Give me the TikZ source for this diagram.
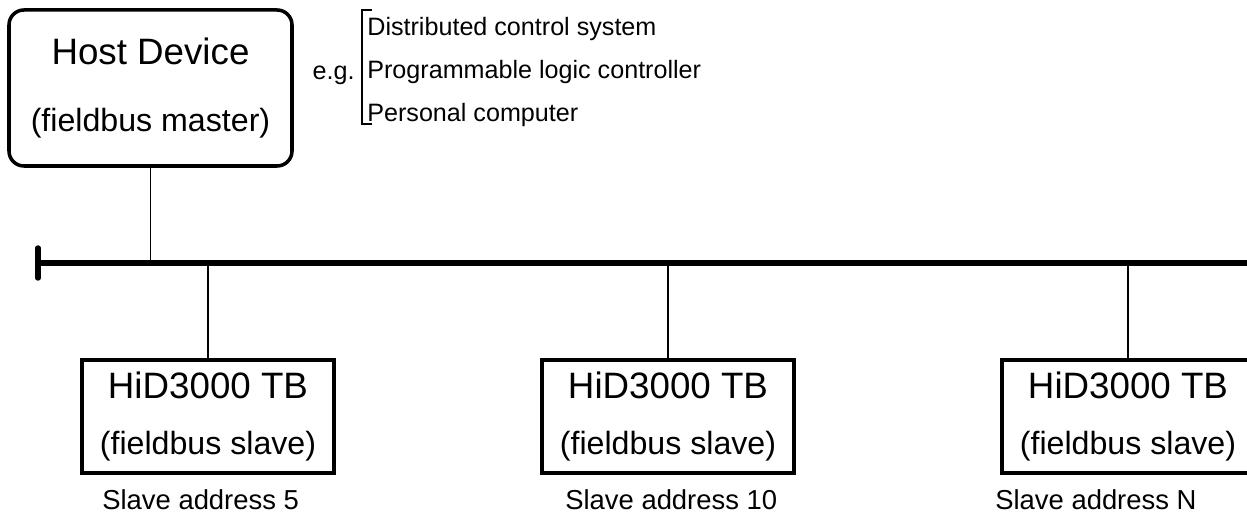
\documentclass[tikz,border=0pt]{standalone}
\usepackage{fontspec}
\setmainfont{Liberation Sans}
\usetikzlibrary{positioning, calc}

\begin{document}
\begin{tikzpicture}[
        device/.style={rectangle, draw, line width=2pt, align=center, inner sep=0pt},
        host/.style={device, rounded corners=8.5pt, minimum width=5.66cm, minimum height=3.12cm, font=\fontsize{20.9}{38.1}\selectfont},
        slave/.style={device, minimum width=5.04cm, minimum height=2.26cm, font=\fontsize{20.9}{32.4}\selectfont},
        note/.style={font=\fontsize{14.3}{24.5}\selectfont, inner sep=0pt},
        addr/.style={font=\fontsize{15.6}{18}\selectfont, inner sep=0pt, anchor=base west},
        bus/.style={line width=3.1pt},
        link/.style={line width=1.1pt}
    ]
    \useasboundingbox (0,0) rectangle (24.94,10.28);

    % Top: host device and examples
    \node[host] (host) at (3.01, 8.52) {Host Device\\{\fontsize{18.3}{38.1}\selectfont (fieldbus master)}};
    \node[note, anchor=north west, align=left] (examples) at (7.34, 9.94) {Distributed control system\\Programmable logic controller\\Personal computer};
    \node[note, anchor=base east] (eg) at (7.1, 8.68) {e.g.};
    \draw[link] ([shift={(0.1,0.14)}]examples.north west) -- ([shift={(-0.1,0.14)}]examples.north west)
        -- ([shift={(-0.1,0.06)}]examples.south west) -- ([shift={(0.1,0.06)}]examples.south west);

    % Fieldbus line
    \coordinate (busL) at (0.76, 5.02);
    \coordinate (busR) at (25.3, 5.02);
    \draw[bus] (busL) -- (busR);
    \draw[bus, line cap=round] ([yshift=0.3cm]busL) -- ([yshift=-0.3cm]busL);

    % Slaves
    \node[slave] (slave1) at (4.16, 1.95) {HiD3000 TB\\{\fontsize{18.3}{32.4}\selectfont (fieldbus slave)}};
    \node[slave] (slave2) at (13.36, 1.95) {HiD3000 TB\\{\fontsize{18.3}{32.4}\selectfont (fieldbus slave)}};
    \node[slave] (slave3) at (22.56, 1.95) {HiD3000 TB\\{\fontsize{18.3}{32.4}\selectfont (fieldbus slave)}};

    % Addresses
    \node[addr] (addr1) at (2.04, 0.08) {Slave address 5};
    \node[addr] (addr2) at (11.3, 0.08) {Slave address 10};
    \node[addr] (addr3) at (19.9, 0.08) {Slave address N};

    % Drops to the bus
    \draw[link] (host.south) -- (host.south |- busL);
    \draw[link] (slave1.north) -- (slave1.north |- busL);
    \draw[link] (slave2.north) -- (slave2.north |- busL);
    \draw[link] (slave3.north) -- (slave3.north |- busL);

\end{tikzpicture}
\end{document}
